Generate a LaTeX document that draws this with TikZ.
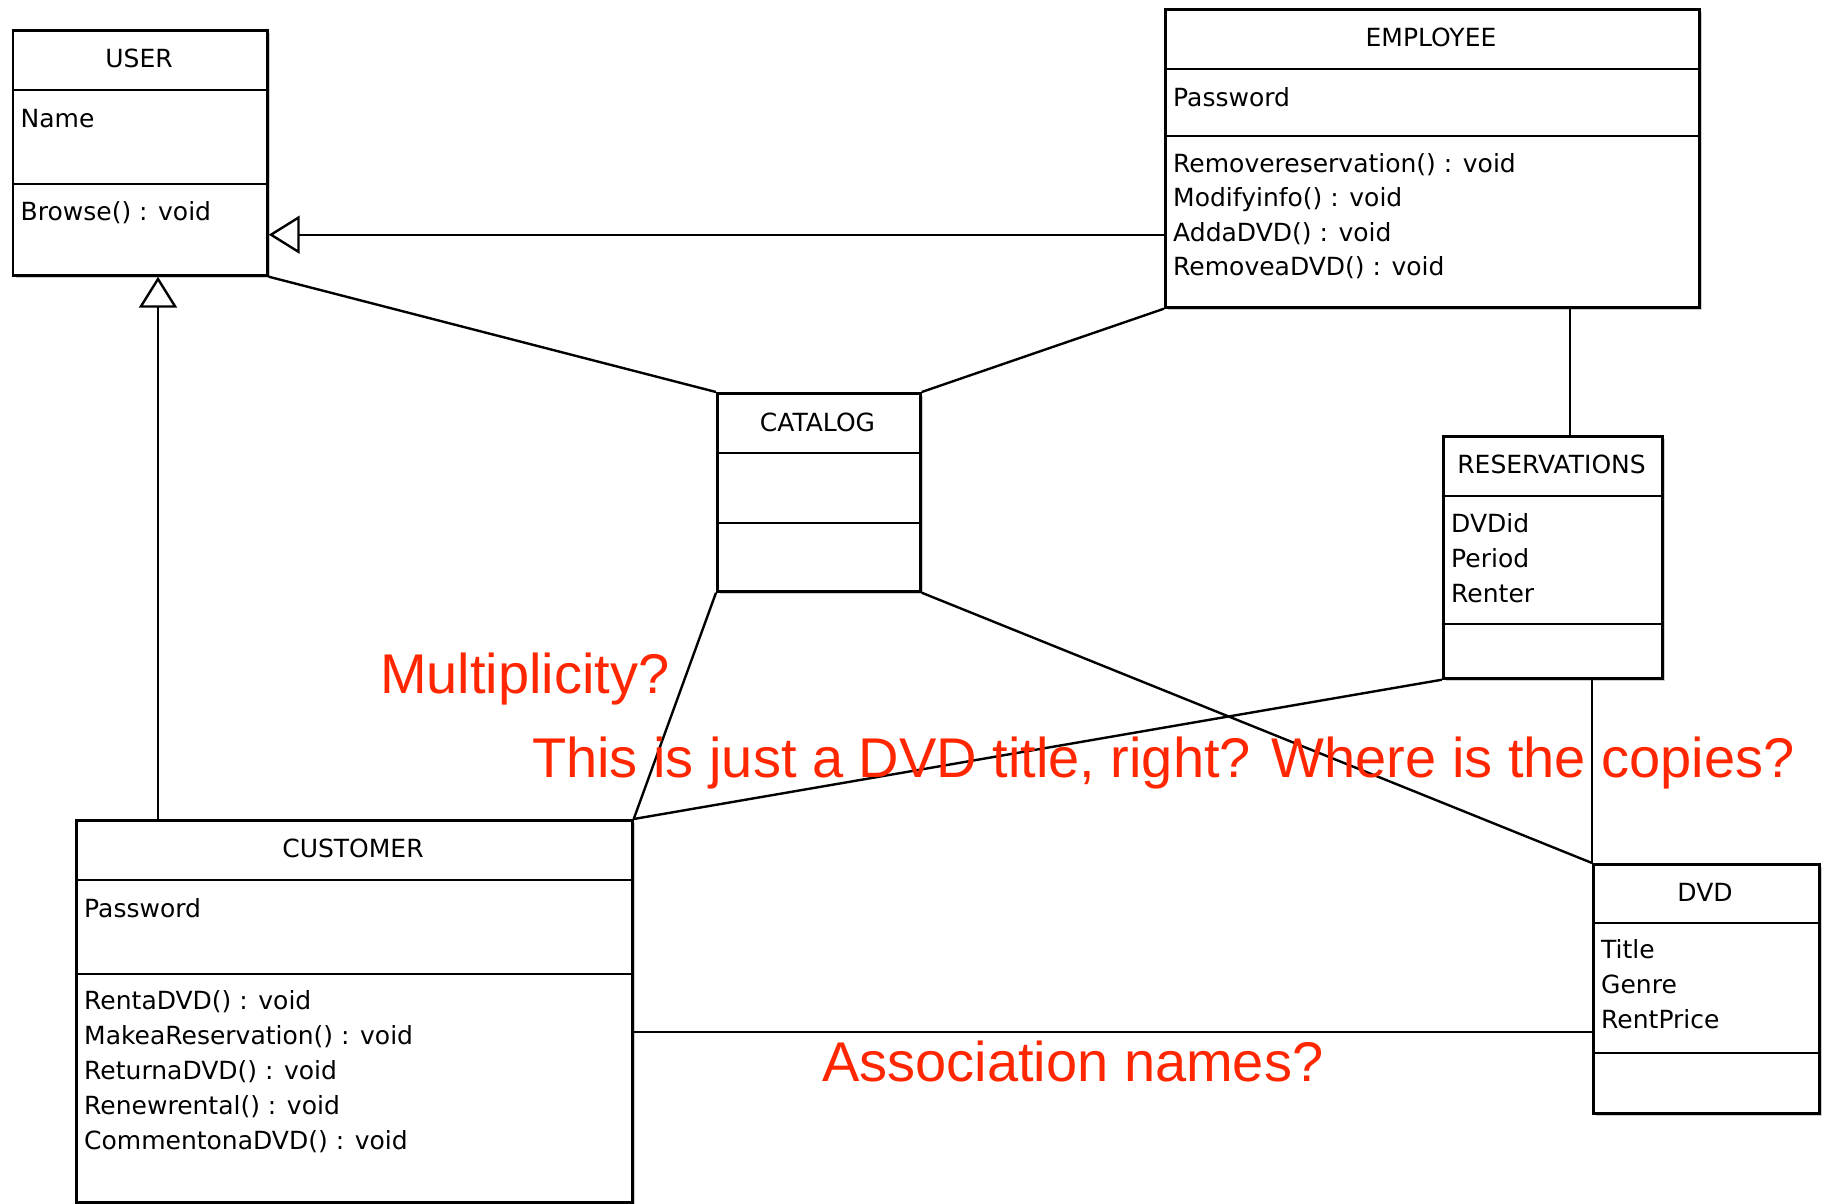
\documentclass[tikz,border=0pt]{standalone}
\usepackage{fontspec}
\usetikzlibrary{arrows.meta,shadows}
\newfontfamily\classfont{DejaVu Sans}
\newfontfamily\notefont{Liberation Sans}
\definecolor{notered}{RGB}{255,38,0}
\tikzset{
  umlbox/.style={draw=black, line width=2.7pt, fill=white, inner sep=0pt,
    drop shadow={shadow xshift=3pt, shadow yshift=-3pt, fill=black!40, opacity=0.5}},
  divider/.style={draw=black, line width=2.7pt},
  txt/.style={inner sep=0pt, font=\classfont\fontsize{25pt}{30pt}\selectfont, text=black},
  assoc/.style={draw=black, line width=2.4pt},
  gen/.style={draw=black, line width=2.4pt, -{Triangle[open, length=31pt, width=38pt]}},
  note/.style={inner sep=0pt, anchor=base west, text=notered, font=\notefont\fontsize{56pt}{60pt}\selectfont}
}
\newcommand{\umlclassbox}[7]{%
  \node[umlbox, minimum width=#4pt, minimum height=#5pt, anchor=north west] (#1) at (#2,#3) {};
  \draw[divider] (#1.west |- 0,#6) -- (#1.east |- 0,#6);
  \draw[divider] (#1.west |- 0,#7) -- (#1.east |- 0,#7);
}
\begin{document}
\begin{tikzpicture}[x=1pt, y=-1pt]
\useasboundingbox (0,0) rectangle (1830,1203);

% classes
\umlclassbox{user}{11.5}{29}{254.5}{245}{90}{184}
\umlclassbox{employee}{1164}{8}{534}{298}{69}{136}
\umlclassbox{catalog}{716}{392}{203}{198}{453}{523}
\umlclassbox{res}{1442}{435}{219}{242}{496}{624}
\umlclassbox{dvd}{1592}{863}{226}{249}{923}{1053}
\umlclassbox{customer}{75}{819}{556}{382}{880}{974}

% USER
\node[txt, anchor=base] (u-t) at (139,67.5) {USER};
\node[txt, anchor=base west] (u-a1) at (20.5,127) {Name};
\node[txt, anchor=base west] (u-m1) at (20.5,220) {Browse() : void};

% EMPLOYEE
\node[txt, anchor=base] (e-t) at (1431,46.5) {EMPLOYEE};
\node[txt, anchor=base west] (e-a1) at (1173,106) {Password};
\node[txt, anchor=base west] (e-m1) at (1173,172) {Removereservation() : void};
\node[txt, anchor=base west] (e-m2) at (1173,206.5) {Modifyinfo() : void};
\node[txt, anchor=base west] (e-m3) at (1173,241) {AddaDVD() : void};
\node[txt, anchor=base west] (e-m4) at (1173,275.5) {RemoveaDVD() : void};

% CATALOG
\node[txt, anchor=base] (c-t) at (817.5,431) {CATALOG};

% RESERVATIONS
\node[txt, anchor=base] (r-t) at (1551.5,473.5) {RESERVATIONS};
\node[txt, anchor=base west] (r-a1) at (1451,532) {DVDid};
\node[txt, anchor=base west] (r-a2) at (1451,567) {Period};
\node[txt, anchor=base west] (r-a3) at (1451,602) {Renter};

% DVD
\node[txt, anchor=base] (d-t) at (1705,901) {DVD};
\node[txt, anchor=base west] (d-a1) at (1601,958) {Title};
\node[txt, anchor=base west] (d-a2) at (1601,993) {Genre};
\node[txt, anchor=base west] (d-a3) at (1601,1028) {RentPrice};

% CUSTOMER
\node[txt, anchor=base] (cu-t) at (353,857.5) {CUSTOMER};
\node[txt, anchor=base west] (cu-a1) at (84,917) {Password};
\node[txt, anchor=base west] (cu-m1) at (84,1009) {RentaDVD() : void};
\node[txt, anchor=base west] (cu-m2) at (84,1044) {MakeaReservation() : void};
\node[txt, anchor=base west] (cu-m3) at (84,1079) {ReturnaDVD() : void};
\node[txt, anchor=base west] (cu-m4) at (84,1114) {Renewrental() : void};
\node[txt, anchor=base west] (cu-m5) at (84,1149) {CommentonaDVD() : void};

% connectors
\draw[assoc] (user.south east) -- (catalog.north west);
\draw[assoc] (employee.south west) -- (catalog.north east);
\draw[assoc] (catalog.south west) -- (customer.north east);
\draw[assoc] (catalog.south east) -- (dvd.north west);
\draw[assoc] (res.south west) -- (customer.north east);
\draw[assoc] ([xshift=406pt]employee.south west) coordinate (er) -- (er |- res.north);
\draw[assoc] (res.south -| dvd.north west) -- (dvd.north west);
\draw[assoc] ([yshift=-169pt]dvd.north west) coordinate (cd) -- (cd -| customer.east);

% generalizations
\draw[gen] ([yshift=74pt]employee.south west) coordinate (g1) -- (g1 -| user.east);
\draw[gen] ([xshift=83pt]customer.north west) coordinate (g2) -- (g2 |- user.south);

% notes
\node[note] (n1) at (380,693) {Multiplicity?};
\node[note] (n2) at (532,777) {This is just a DVD title, right? Where is the copies?};
\node[note] (n3) at (822,1081) {Association names?};
\end{tikzpicture}
\end{document}
